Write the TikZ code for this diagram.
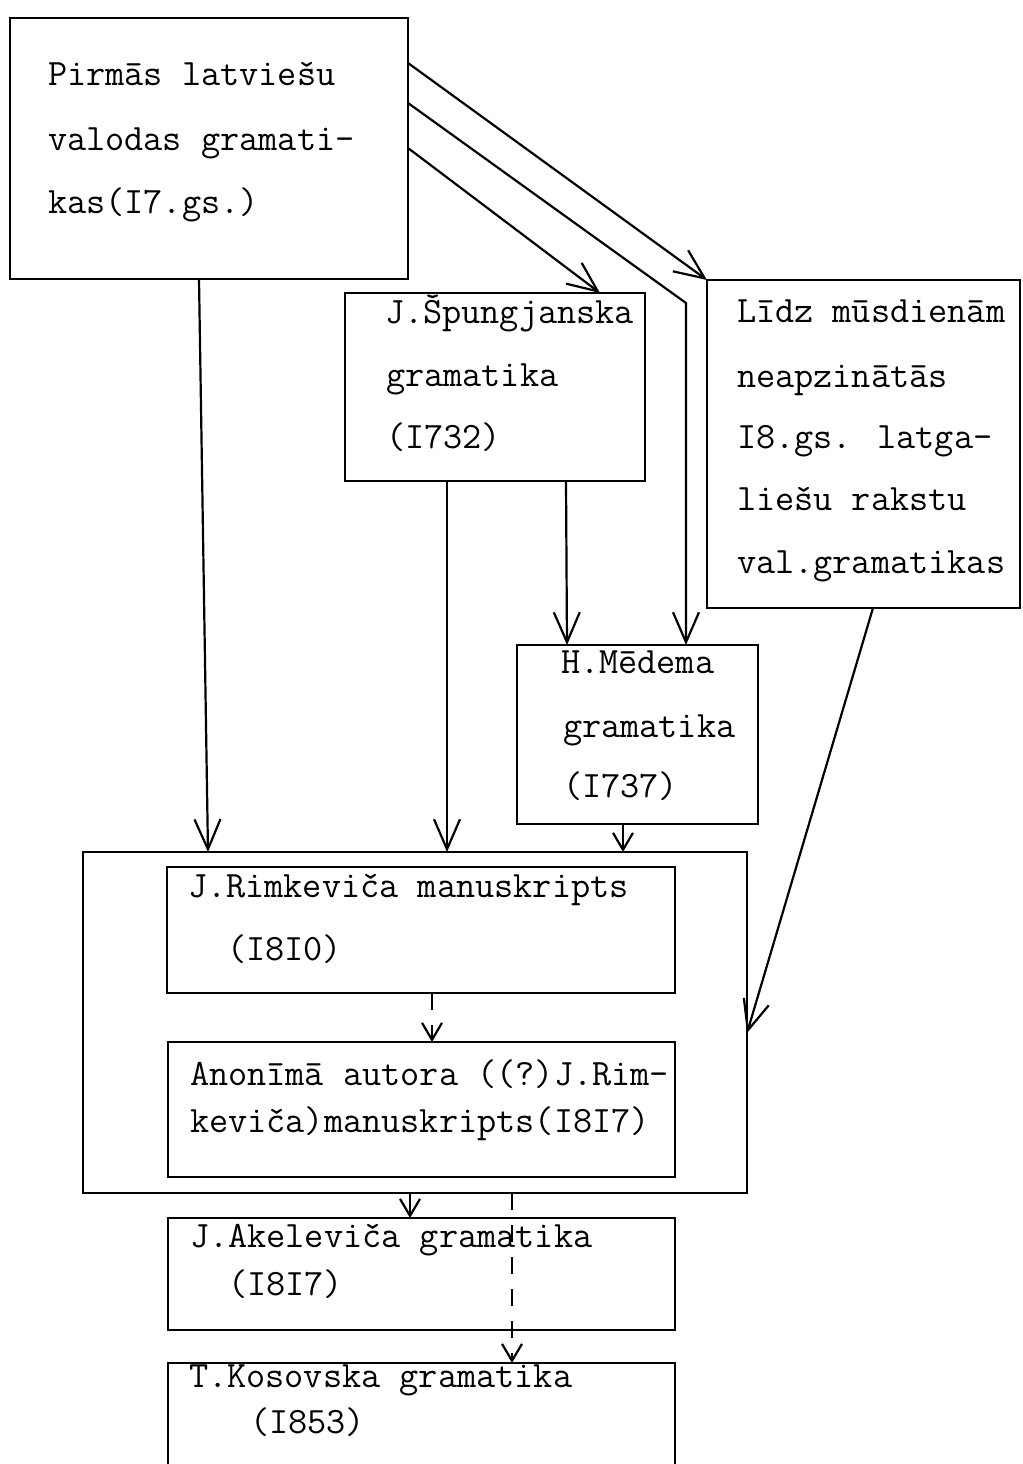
\documentclass[tikz,border=0pt]{standalone}
\usepackage{fontspec}
\usetikzlibrary{arrows.meta,calc}
\begin{document}
\begin{tikzpicture}[x=0.5pt,y=-0.5pt,
  box/.style={draw, line width=1.2pt, inner sep=0pt, outer sep=0pt},
  txt/.style={font=\ttfamily\fontsize{18.6pt}{22pt}\selectfont\addfontfeatures{FakeBold=1.2}, inner sep=0pt, outer sep=0pt, anchor=base west},
  conn/.style={line width=1.1pt},
  bigarr/.style={conn, -{Straight Barb[length=15pt,width=13pt,line width=1.1pt]}},
  smallarr/.style={conn, -{Straight Barb[length=8.5pt,width=10pt,line width=1.1pt]}},
  dashline/.style={dash pattern=on 8.5pt off 7.5pt}
]
\useasboundingbox (0,0) rectangle (1023,1464);
\clip (0,0) rectangle (1023,1464);

% boxes
\node[box, minimum width=199pt, minimum height=130.5pt] (A) at (209,148.5) {};
\node[box, minimum width=150pt, minimum height=94pt] (B) at (495,387) {};
\node[box, minimum width=156.5pt, minimum height=164pt] (D) at (863.5,444) {};
\node[box, minimum width=120.5pt, minimum height=89.5pt] (M) at (637.5,734.5) {};
\node[box, minimum width=332pt, minimum height=170.5pt] (O) at (415,1022.5) {};
\node[box, minimum width=254pt, minimum height=63pt] (R1) at (421,930) {};
\node[box, minimum width=253.5pt, minimum height=67.5pt] (R2) at (421.5,1109.5) {};
\node[box, minimum width=253.5pt, minimum height=56pt] (K) at (421.5,1274) {};
\node[box, minimum width=253.5pt, minimum height=68.5pt] (T) at (421.5,1431.5) {};

% texts
\node[txt] (A1) at (48,85) {Pirmās latviešu};
\node[txt] (A2) at (48,150) {valodas gramati-};
\node[txt] (A3) at (48,213) {kas(I7.gs.)};
\node[txt] (B1) at (385,323) {J.Špungjanska};
\node[txt] (B2) at (386,386) {gramatika};
\node[txt] (B3) at (386,448) {(I732)};
\node[txt] (D1) at (737,322) {Līdz mūsdienām};
\node[txt] (D2) at (737,387) {neapzinātās};
\node[txt] (D3) at (737,448) {I8.gs. latga-};
\node[txt] (D4) at (737,510) {liešu rakstu};
\node[txt] (D5) at (737,573) {val.gramatikas};
\node[txt] (M1) at (561,673) {H.Mēdema};
\node[txt] (M2) at (563,737) {gramatika};
\node[txt] (M3) at (563,797) {(I737)};
\node[txt] (R11) at (188,897) {J.Rimkeviča manuskripts};
\node[txt] (R12) at (227,960) {(I8I0)};
\node[txt] (R21) at (190,1085) {Anonīmā autora ((?)J.Rim-};
\node[txt] (R22) at (190,1132) {keviča)manuskripts(I8I7)};
\node[txt] (K1) at (190,1247) {J.Akeleviča gramatika};
\node[txt] (K2) at (228,1295) {(I8I7)};
\node[txt] (T1) at (189,1387) {T.Kosovska gramatika};
\node[txt] (T2) at (250,1433) {(I853)};

% connectors
\coordinate (bend) at (686,303);
\draw[bigarr] ($(A.north east)+(0,45)$) -- (D.north west);
\draw[bigarr] ($(A.north east)+(0,85)$) -- (bend) -- (bend |- M.north);
\draw[bigarr] ($(A.north east)+(0,130)$) -- ($(B.north west)+(255,0)$);
\draw[bigarr] ($(A.south west)+(189,0)$) -- ($(O.north west)+(125,0)$);
\draw[bigarr] ($(B.south west)+(102,0)$) -- ($(O.north west)+(364,0)$);
\draw[bigarr] ($(B.south west)+(221,0)$) -- ($(M.north west)+(50,0)$);
\draw[smallarr] ($(M.south west)+(106,0)$) -- ($(O.north west)+(540,0)$);
\draw[bigarr] ($(D.south west)+(166,0)$) -- ($(O.north east)+(0,181)$);
\draw[smallarr, dashline] ($(R1.south west)+(265,0)$) -- ($(R2.north west)+(264,0)$);
\draw[smallarr] ($(O.south west)+(327,0)$) -- ($(K.north west)+(242,0)$);
\draw[smallarr, dashline] ($(O.south west)+(429,0)$) -- ($(T.north west)+(344,0)$);
\end{tikzpicture}
\end{document}
